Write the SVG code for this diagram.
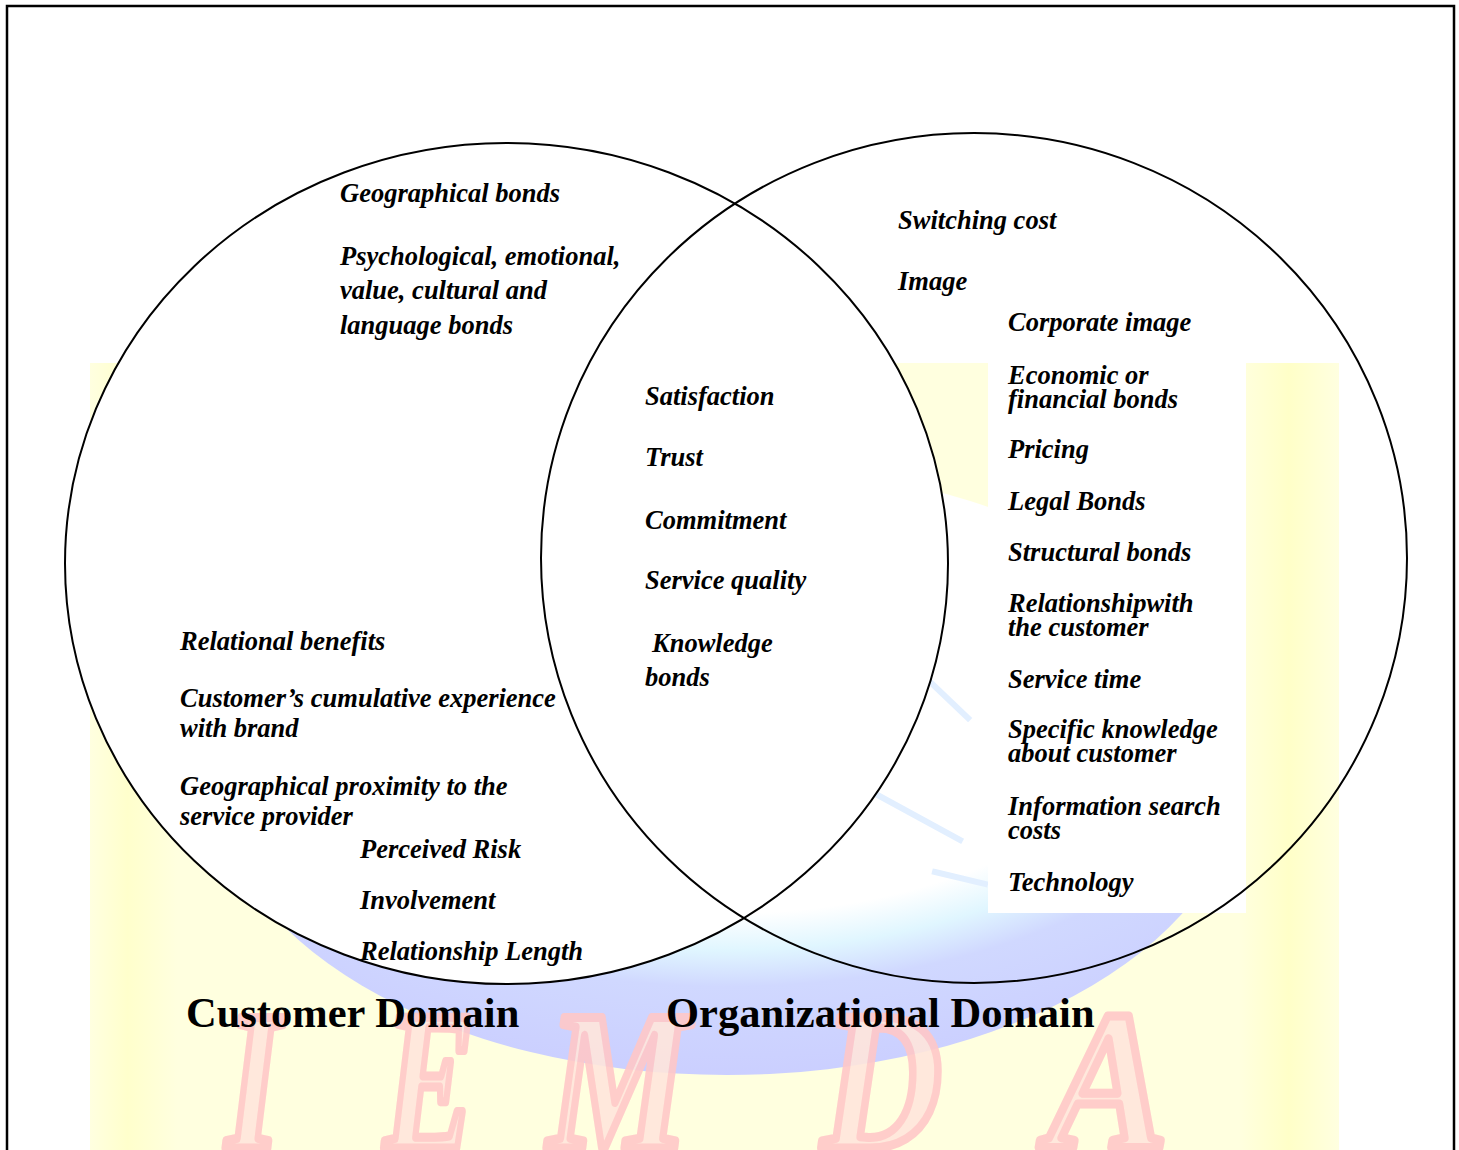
<svg xmlns="http://www.w3.org/2000/svg" width="1459" height="1150" viewBox="0 0 1459 1150">
  <style>
    .lbl { font-family: "Liberation Serif", "Times New Roman", serif; font-weight: bold; font-style: italic; font-size: 26.5px; fill: #000; }
    .title { font-family: "Liberation Serif", "Times New Roman", serif; font-weight: bold; font-size: 42.5px; fill: #000; }
    .mark { font-family: "Liberation Serif", "Times New Roman", serif; font-weight: bold; font-style: italic; font-size: 200px; fill: #ffe6dc; stroke: #ffc8c8; stroke-width: 9; stroke-linejoin: round; opacity: 0.9; }
    .ring { stroke: #000; stroke-width: 2; }
  </style>
  <defs>
    <linearGradient id="paper" x1="0" y1="0" x2="1" y2="0">
      <stop offset="0" stop-color="#ffffe0"/>
      <stop offset="0.03" stop-color="#ffffcc"/>
      <stop offset="0.07" stop-color="#ffffdf"/>
      <stop offset="0.92" stop-color="#ffffdf"/>
      <stop offset="0.96" stop-color="#ffffc8"/>
      <stop offset="1" stop-color="#ffffe0"/>
    </linearGradient>
    <radialGradient id="globe" cx="0.5" cy="0.3" r="0.75" fx="0.5" fy="0.3">
      <stop offset="0" stop-color="#ffffff"/>
      <stop offset="0.58" stop-color="#ffffff"/>
      <stop offset="0.66" stop-color="#e0f6ff"/>
      <stop offset="0.74" stop-color="#d0d8ff"/>
      <stop offset="1" stop-color="#c9ccff"/>
    </radialGradient>
  </defs>

  <rect x="0" y="0" width="1459" height="1150" fill="#fff"/>

  <!-- background watermark: tinted panel, globe and faded lettering -->
  <g id="watermark">
    <rect x="90" y="363" width="1249" height="787" fill="url(#paper)"/>
    <ellipse cx="727" cy="770" rx="516" ry="305" fill="url(#globe)"/>
    <g stroke="#e2efff" stroke-width="6" stroke-linecap="square" fill="none">
      <line x1="928" y1="680" x2="968" y2="718"/>
      <line x1="872" y1="792" x2="960" y2="840"/>
      <line x1="935" y1="872" x2="985" y2="884"/>
    </g>
    <text class="mark" transform="translate(226,1148) scale(0.7,1)">I</text>
    <text class="mark" transform="translate(384,1148) scale(0.68,1)">E</text>
    <text class="mark" transform="translate(548,1148) scale(0.79,1)">M</text>
    <text class="mark" transform="translate(822,1148) scale(0.83,1)">D</text>
    <text class="mark" transform="translate(1048,1148) scale(0.9,1)">A</text>
  </g>

  <!-- customer domain circle -->
  <g id="customer-domain">
    <ellipse class="ring" cx="506.5" cy="563.5" rx="441.5" ry="420.5" fill="#fff"/>
  </g>

  <!-- plain backing behind the organizational list -->
  <rect x="988" y="363" width="258" height="550" fill="#fff"/>

  <!-- organizational domain circle -->
  <g id="organizational-domain">
    <ellipse class="ring" cx="974" cy="558" rx="433" ry="425" fill="none"/>
  </g>

  <g id="connectors"/>

  <!-- factors on the customer side -->
  <g id="customer-factors">
    <text class="lbl" x="340" y="202">Geographical bonds</text>
    <text class="lbl" x="340" y="265">Psychological, emotional,</text>
    <text class="lbl" x="340" y="299">value, cultural and</text>
    <text class="lbl" x="340" y="334">language bonds</text>
    <text class="lbl" x="180" y="650">Relational benefits</text>
    <text class="lbl" x="180" y="707">Customer’s cumulative experience</text>
    <text class="lbl" x="180" y="737">with brand</text>
    <text class="lbl" x="180" y="795">Geographical proximity to the</text>
    <text class="lbl" x="180" y="825">service provider</text>
    <text class="lbl" x="360" y="858">Perceived Risk</text>
    <text class="lbl" x="360" y="909">Involvement</text>
    <text class="lbl" x="360" y="960">Relationship Length</text>
  </g>

  <!-- factors shared by both domains -->
  <g id="shared-factors">
    <text class="lbl" x="645" y="405">Satisfaction</text>
    <text class="lbl" x="645" y="466">Trust</text>
    <text class="lbl" x="645" y="529">Commitment</text>
    <text class="lbl" x="645" y="589">Service quality</text>
    <text class="lbl" x="652" y="652">Knowledge</text>
    <text class="lbl" x="645" y="686">bonds</text>
  </g>

  <!-- factors on the organizational side -->
  <g id="organizational-factors">
    <text class="lbl" x="898" y="229">Switching cost</text>
    <text class="lbl" x="898" y="290">Image</text>
    <text class="lbl" x="1008" y="331">Corporate image</text>
    <text class="lbl" x="1008" y="384">Economic or</text>
    <text class="lbl" x="1008" y="408">financial bonds</text>
    <text class="lbl" x="1008" y="458">Pricing</text>
    <text class="lbl" x="1008" y="510">Legal Bonds</text>
    <text class="lbl" x="1008" y="561">Structural bonds</text>
    <text class="lbl" x="1008" y="612">Relationshipwith</text>
    <text class="lbl" x="1008" y="636">the customer</text>
    <text class="lbl" x="1008" y="688">Service time</text>
    <text class="lbl" x="1008" y="738">Specific knowledge</text>
    <text class="lbl" x="1008" y="762">about customer</text>
    <text class="lbl" x="1008" y="815">Information search</text>
    <text class="lbl" x="1008" y="839">costs</text>
    <text class="lbl" x="1008" y="891">Technology</text>
  </g>

  <!-- domain captions -->
  <g id="captions">
    <text class="title" x="186" y="1027">Customer Domain</text>
    <text class="title" x="666" y="1027">Organizational Domain</text>
  </g>

  <!-- page frame -->
  <path d="M7,1150 V6 H1454 V1150" fill="none" stroke="#000" stroke-width="2.5"/>
</svg>
